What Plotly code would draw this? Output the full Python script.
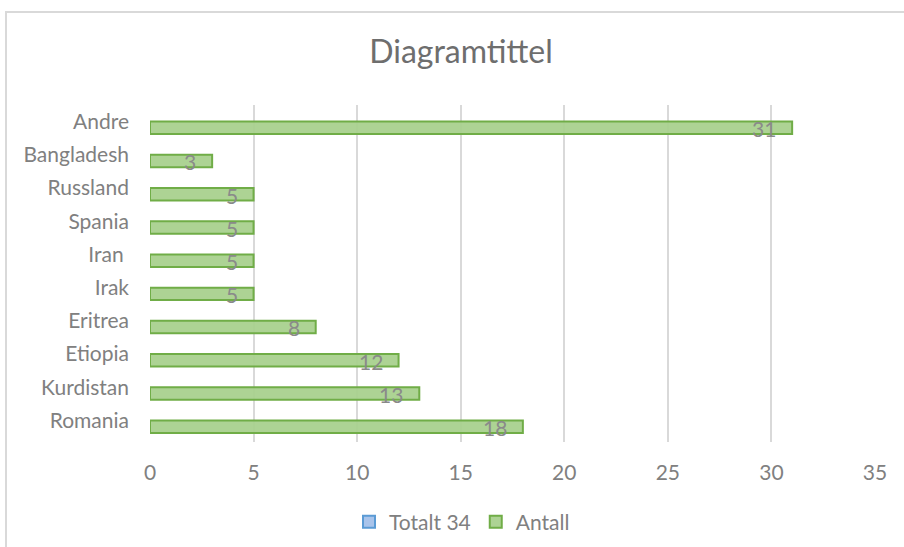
import plotly.graph_objects as go

categories = ["Romania", "Kurdistan", "Etiopia", "Eritrea", "Irak", "Iran ", "Spania", "Russland", "Bangladesh", "Andre"]
antall = [18, 13, 12, 8, 5, 5, 5, 5, 3, 31]
totalt = [None] * len(categories)
x_ticks = [0, 5, 10, 15, 20, 25, 30, 35]

FONT = "Lato, Carlito, Calibri, sans-serif"
TXT = "#808080"

W, H = 904, 547
L, R, T, B = 150, 875, 105, 442

fig = go.Figure()
fig.add_trace(go.Bar(
    y=categories, x=antall, orientation="h", name="Antall",
    marker=dict(color="rgba(169,209,142,0.95)", line=dict(color="#70ad47", width=2)),
    textposition="none",
    legendrank=2,
))
fig.add_trace(go.Bar(
    y=categories, x=totalt, orientation="h", name="Totalt 34",
    marker=dict(color="#a9c4eb", line=dict(color="#5b9bd5", width=2)),
    legendrank=1,
))

annotations = [
    dict(x=v, y=c, xref="x", yref="y", text=str(v), showarrow=False,
         xanchor="right", yanchor="middle", xshift=-14, yshift=-7,
         font=dict(family=FONT, size=21, color="#8a8a8a"))
    for c, v in zip(categories, antall)
]

fig.update_layout(
    width=W, height=H,
    margin=dict(l=L, r=W - R, t=T, b=H - B, autoexpand=False),
    paper_bgcolor="white", plot_bgcolor="white",
    barmode="group", bargap=0.25, bargroupgap=0,
    font=dict(family=FONT, color=TXT, size=20),
    title=dict(text="Diagramtittel", x=(461 - L) / (R - L), xref="paper", xanchor="center",
               y=1 - 52 / H, yanchor="middle",
               font=dict(family=FONT, size=32, color="#6e6e6e")),
    legend=dict(orientation="h", x=(462 - L) / (R - L), xanchor="center",
                y=(B - 522) / (B - T), yanchor="middle",
                font=dict(family=FONT, size=21, color=TXT),
                traceorder="normal", itemwidth=30),
    showlegend=True,
    annotations=annotations,
    xaxis=dict(range=[0, 35], tickvals=x_ticks, showgrid=True, gridcolor="#d9d9d9", gridwidth=1.5,
               zeroline=False, showline=False, ticks="", ticklabelstandoff=16,
               tickfont=dict(family=FONT, size=21, color=TXT), fixedrange=True),
    yaxis=dict(categoryorder="array", categoryarray=categories, showgrid=False, zeroline=False,
               showline=False, ticks="", ticklabelstandoff=20,
               tickfont=dict(family=FONT, size=21, color=TXT)),
    shapes=[dict(type="rect", xref="paper", yref="paper",
                 x0=(6 - L) / (R - L), x1=1.3, y0=-0.6, y1=(B - 12) / (B - T),
                 line=dict(color="#d9d9d9", width=2), fillcolor="rgba(0,0,0,0)", layer="below")],
)

fig.write_html("out.html")
